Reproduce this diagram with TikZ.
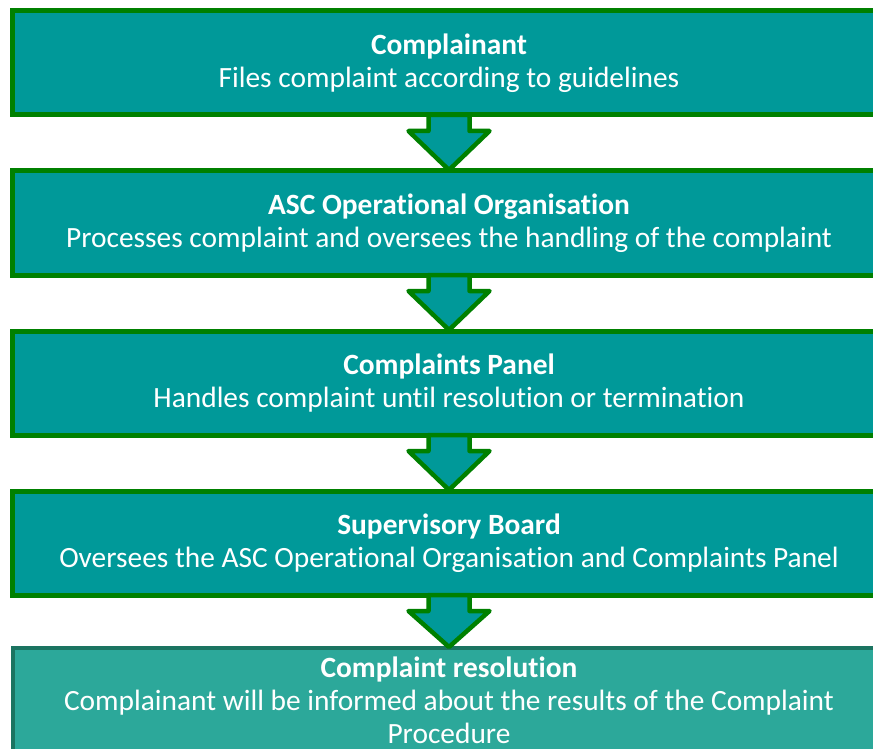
\documentclass[tikz,border=0pt]{standalone}
\usepackage{fontspec}
\setmainfont{Carlito}[RawFeature={-liga}]
\usetikzlibrary{calc}
\definecolor{boxteal}{HTML}{009999}
\definecolor{boxgreen}{HTML}{008000}
\definecolor{endteal}{HTML}{2CA89A}
\definecolor{endrim}{HTML}{1B7461}
\tikzset{
  stagebox/.style={draw=boxgreen, fill=boxteal, line width=5pt,
    minimum width=873pt, minimum height=104pt, inner sep=0pt, outer sep=0pt,
    text=white, align=center, font=\fontsize{29.4}{33}\selectfont},
  endbox/.style={stagebox, draw=endrim, fill=endteal, line width=4pt},
  flowarrow/.style={draw=boxgreen, fill=boxteal, line width=4.5pt, line join=round},
}
\begin{document}
\begin{tikzpicture}[x=1pt, y=-1pt]
  \useasboundingbox (0,0) rectangle (873,749);
  \clip (0,0) rectangle (873,749);

  % process stages
  \node[stagebox] (b1) at (449,63)
    {\textbf{Complainant}\\Files complaint according to guidelines};
  \node[stagebox] (b2) at (449,223)
    {\textbf{ASC Operational Organisation}\\Processes complaint and oversees the handling of the complaint};
  \node[stagebox] (b3) at (449,383)
    {\textbf{Complaints Panel}\\Handles complaint until resolution or termination};
  \node[stagebox] (b4) at (449,543)
    {\textbf{Supervisory Board}\\Oversees the ASC Operational Organisation and Complaints Panel};
  \node[endbox] (b5) at (449,700)
    {\textbf{Complaint resolution}\\Complainant will be informed about the results of the Complaint\\Procedure};

  % block arrows between consecutive stages
  \foreach \a/\b in {b1/b2, b2/b3, b3/b4, b4/b5} {
    \draw[flowarrow] ($(\a.south)+(-20.5,0)$) -- ++(0,16) -- ++(-20,0)
      -- ($(\b.north)+(0,-1)$) -- ($(\a.south)+(40.5,16)$) -- ++(-20,0)
      -- ++(0,-16) -- cycle;
  }
\end{tikzpicture}
\end{document}
